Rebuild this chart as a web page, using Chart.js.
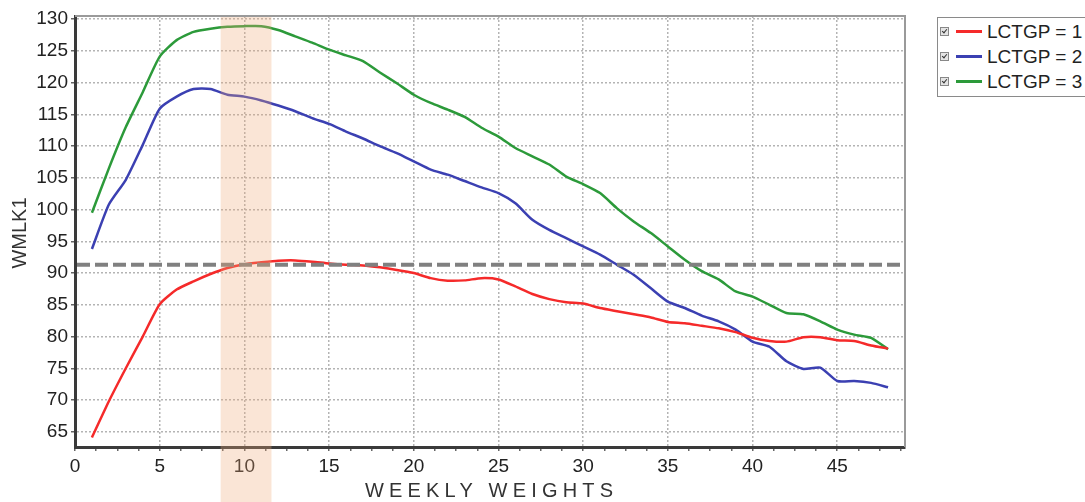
<!DOCTYPE html>
<html><head><meta charset="utf-8">
<script src="https://cdn.jsdelivr.net/npm/chart.js@4.4.1/dist/chart.umd.min.js"></script>
<style>
html,body{margin:0;padding:0;background:#fff;overflow:hidden}
#wrap{position:relative;width:1085px;height:502px}
canvas{display:block}
#legend{position:absolute;left:937px;top:17px;width:170px;height:80px;border:1.5px solid #8a8a8a;box-sizing:border-box;font-family:"Liberation Sans",Arial,sans-serif;font-size:19px;color:#222;padding-top:1px;background:#fff}
.row{height:25px;display:flex;align-items:center;white-space:nowrap}
.cb{width:7px;height:7px;border:1px solid #888;background:#e4e4e4;margin-left:2px;margin-right:7px;position:relative;flex:none}
.cb::after{content:"";position:absolute;left:2px;top:0px;width:2px;height:4px;border-right:1.5px solid #333;border-bottom:1.5px solid #333;transform:rotate(40deg)}
.sw{width:26px;height:3px;margin-right:5px;flex:none}
</style>
</head><body>
<div id="wrap">
<canvas id="c" width="1085" height="502"></canvas>
<div id="legend"></div>
</div>
<script>
const weeks = [1,2,3,4,5,6,7,8,9,10,11,12,13,14,15,16,17,18,19,20,21,22,23,24,25,26,27,28,29,30,31,32,33,34,35,36,37,38,39,40,41,42,43,44,45,46,47,48];
const seriesNames = ['LCTGP = 1','LCTGP = 2','LCTGP = 3'];
const lctgp1 = [64.1,69.8,75.0,80.0,85.1,87.4,88.7,89.85,90.8,91.4,91.7,91.95,92.0,91.8,91.5,91.3,91.2,90.9,90.5,90.0,89.2,88.8,88.85,89.2,89.0,87.9,86.7,85.9,85.4,85.2,84.5,84.0,83.5,83.0,82.3,82.1,81.7,81.3,80.7,79.8,79.3,79.2,79.9,79.9,79.4,79.3,78.6,78.1];
const lctgp2 = [93.8,100.8,104.7,110.2,115.9,117.8,119.0,119.0,118.1,117.8,117.2,116.4,115.5,114.4,113.5,112.3,111.2,110.0,108.9,107.6,106.3,105.5,104.5,103.5,102.6,101.0,98.4,96.8,95.5,94.2,92.9,91.3,89.7,87.6,85.5,84.5,83.3,82.4,81.1,79.2,78.4,76.1,74.9,75.1,73.0,73.0,72.7,72.0];
const lctgp3 = [99.5,106.5,113.0,118.5,124.1,126.7,128.0,128.5,128.8,128.9,128.9,128.3,127.3,126.3,125.2,124.3,123.4,121.6,119.9,118.1,116.8,115.75,114.6,112.9,111.5,109.7,108.4,107.1,105.2,104.0,102.6,100.2,98.1,96.3,94.2,92.1,90.3,89.0,87.1,86.3,85.0,83.7,83.5,82.4,81.1,80.3,79.8,78.0];
const yTicks = [65,70,75,80,85,90,95,100,105,110,115,120,125,130];
const xTicks = [0,1.25,2.5,3.75,5,6.25,7.5,8.75,10,11.25,12.5,13.75,15,16.25,17.5,18.75,20,21.25,22.5,23.75,25,26.25,27.5,28.75,30,31.25,32.5,33.75,35,36.25,37.5,38.75,40,41.25,42.5,43.75,45,46.25,47.5,48.75];
const xLabelTicks = [0,5,10,15,20,25,30,35,40,45];
const xRange = [0,49];
const yRange = [62.6,130.5];
const refLineValue = 91.3;
const bandRange = [8.6,11.6];
const xTitle = 'WEEKLY WEIGHTS';
const yTitle = 'WMLK1';

const colors = ['#f52a2a','#3b40b2','#2c9a3a'];
const allSeries = [lctgp1,lctgp2,lctgp3];

// HTML legend
const lg = document.getElementById('legend');
seriesNames.forEach((n,i)=>{
  const r = document.createElement('div'); r.className='row';
  r.innerHTML = '<span class="cb"></span><span class="sw" style="background:'+colors[i]+'"></span><span>'+n+'</span>';
  lg.appendChild(r);
});

const FONT = '"Liberation Sans", Arial, sans-serif';
Chart.defaults.font.family = FONT;

const overlay = {
  id:'overlay',
  afterDatasetsDraw(chart){
    const {ctx, chartArea:a, scales:{x,y}} = chart;
    const yy = y.getPixelForValue(refLineValue);
    ctx.save();
    ctx.strokeStyle='#808080'; ctx.lineWidth=4; ctx.setLineDash([13,5]);
    ctx.beginPath(); ctx.moveTo(a.left+2, yy); ctx.lineTo(a.right, yy); ctx.stroke();
    ctx.restore();
  },
  afterDraw(chart){
    const {ctx, chartArea:a, scales:{x,y}} = chart;
    ctx.save();
    // frame top/right
    ctx.strokeStyle='#9a9a9a'; ctx.lineWidth=2;
    ctx.beginPath(); ctx.moveTo(a.left, a.top); ctx.lineTo(a.right, a.top); ctx.lineTo(a.right, a.bottom); ctx.stroke();
    // titles
    ctx.fillStyle='#333';
    ctx.font = '20px ' + FONT;
    ctx.textBaseline='middle';
    ctx.textAlign='center';
    ctx.save();
    ctx.translate(20, 233);
    ctx.rotate(-Math.PI/2);
    ctx.fillText(yTitle, 0, 0);
    ctx.restore();
    ctx.textAlign='left';
    const w0 = ctx.measureText(xTitle).width;
    const target = 248;
    const sp = (target - w0)/(xTitle.length-1);
    ctx.letterSpacing = sp.toFixed(2)+'px';
    ctx.fillText(xTitle, 489 - target/2, 491);
    ctx.letterSpacing = '0px';
    // band
    const x0 = x.getPixelForValue(bandRange[0]), x1 = x.getPixelForValue(bandRange[1]);
    ctx.fillStyle='rgba(240,170,120,0.3)';
    ctx.fillRect(x0, a.top+1, x1-x0, chart.height - a.top);
    ctx.restore();
  }
};

new Chart(document.getElementById('c'), {
  type:'line',
  data:{
    datasets: allSeries.map((s,i)=>({
      label: seriesNames[i],
      data: weeks.map((w,j)=>({x:w, y:s[j]})),
      borderColor: colors[i],
      borderWidth: 2.5,
      pointRadius: 0,
      tension: 0.2,
      fill:false
    }))
  },
  options:{
    responsive:false,
    animation:false,
    layout:{padding:{top:16,right:180,left:0,bottom:0}},
    plugins:{legend:{display:false},tooltip:{enabled:false}},
    scales:{
      x:{
        type:'linear', min:xRange[0], max:xRange[1],
        afterBuildTicks(s){ s.ticks = xTicks.map(v=>({value:v})); },
        afterFit(s){ s.height = 55; },
        ticks:{
          autoSkip:false, maxRotation:0, padding:4,
          color:'#222', font:{size:19},
          callback(v){ return xLabelTicks.includes(v) ? String(v) : ''; }
        },
        grid:{
          color(c){ return (c.tick && xLabelTicks.includes(c.tick.value) && c.tick.value!==0) ? '#b4b4b4' : 'rgba(0,0,0,0)'; },
          lineWidth:1.5, tickLength:4, tickColor:'#666', tickWidth:1.5
        },
        border:{color:'#3a3a3a', width:3, dash:[2,2]}
      },
      y:{
        type:'linear', min:yRange[0], max:yRange[1],
        afterBuildTicks(s){ s.ticks = yTicks.map(v=>({value:v})); },
        afterFit(s){ s.width = 75; },
        ticks:{ color:'#222', font:{size:19}, padding:3 },
        grid:{ color:'#b4b4b4', lineWidth:1.5, tickLength:4, tickColor:'#666', tickWidth:1.5 },
        border:{color:'#3a3a3a', width:3, dash:[2,2]}
      }
    }
  },
  plugins:[overlay]
});
</script>
</body></html>
